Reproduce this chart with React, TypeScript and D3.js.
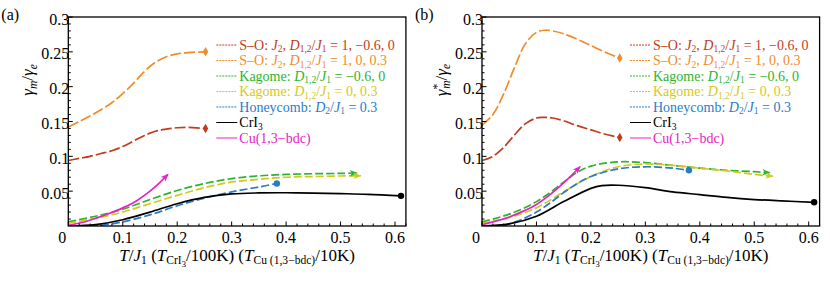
import React from 'react';
import * as d3 from 'd3';

const W = 830;
const H = 285;
const FONT = '"Liberation Serif"';

// ---- panel (a): gamma_m / gamma_e ----
const soNegAX = [0, 0.02, 0.04, 0.06, 0.08, 0.1, 0.12, 0.14, 0.16, 0.18, 0.2, 0.22, 0.252];
const soNegAY = [0.094, 0.097, 0.1, 0.104, 0.108, 0.114, 0.122, 0.13, 0.136, 0.139, 0.141, 0.1415, 0.14];
const soPosAX = [0, 0.02, 0.04, 0.06, 0.08, 0.1, 0.12, 0.14, 0.16, 0.18, 0.2, 0.22, 0.252];
const soPosAY = [0.142, 0.15, 0.158, 0.167, 0.177, 0.19, 0.205, 0.222, 0.235, 0.243, 0.247, 0.249, 0.25];
const kagNegAX = [0, 0.05, 0.1, 0.15, 0.2, 0.25, 0.3, 0.35, 0.4, 0.45, 0.5, 0.53];
const kagNegAY = [0.006, 0.014, 0.024, 0.038, 0.051, 0.061, 0.068, 0.072, 0.074, 0.075, 0.0755, 0.076];
const kagPosAX = [0, 0.05, 0.1, 0.15, 0.2, 0.25, 0.3, 0.35, 0.4, 0.45, 0.5, 0.537];
const kagPosAY = [0.004, 0.011, 0.02, 0.032, 0.044, 0.055, 0.063, 0.067, 0.07, 0.071, 0.0718, 0.072];
const honAX = [0.04, 0.06, 0.1, 0.15, 0.2, 0.25, 0.3, 0.35, 0.383];
const honAY = [0, 0.001, 0.006, 0.016, 0.029, 0.04, 0.049, 0.056, 0.061];
const criAX = [0, 0.05, 0.1, 0.15, 0.2, 0.25, 0.3, 0.35, 0.4, 0.45, 0.5, 0.55, 0.611];
const criAY = [0, 0.002, 0.009, 0.02, 0.032, 0.041, 0.046, 0.0475, 0.0477, 0.0473, 0.0465, 0.0455, 0.0433];
const cuAX = [0, 0.025, 0.05, 0.075, 0.1, 0.125, 0.15, 0.165, 0.183];
const cuAY = [0.001, 0.005, 0.011, 0.018, 0.026, 0.036, 0.05, 0.06, 0.074];

// ---- panel (b): gamma*_m / gamma_e ----
const soNegBX = [0, 0.02, 0.04, 0.06, 0.08, 0.1, 0.11, 0.13, 0.15, 0.175, 0.2, 0.225, 0.253];
const soNegBY = [0.094, 0.1, 0.113, 0.131, 0.147, 0.155, 0.156, 0.155, 0.151, 0.144, 0.138, 0.132, 0.127];
const soPosBX = [0, 0.02, 0.04, 0.06, 0.08, 0.1, 0.115, 0.13, 0.15, 0.175, 0.2, 0.225, 0.253];
const soPosBY = [0.145, 0.16, 0.19, 0.228, 0.262, 0.278, 0.281, 0.28, 0.276, 0.268, 0.259, 0.25, 0.241];
const kagNegBX = [0, 0.025, 0.05, 0.075, 0.1, 0.125, 0.15, 0.175, 0.2, 0.25, 0.3, 0.35, 0.4, 0.45, 0.5, 0.528];
const kagNegBY = [0.006, 0.011, 0.017, 0.025, 0.035, 0.048, 0.063, 0.077, 0.086, 0.092, 0.091, 0.087, 0.083, 0.08, 0.078, 0.0765];
const kagPosBX = [0, 0.05, 0.1, 0.15, 0.2, 0.25, 0.3, 0.35, 0.4, 0.45, 0.5, 0.534];
const kagPosBY = [0.004, 0.012, 0.026, 0.049, 0.071, 0.085, 0.089, 0.087, 0.083, 0.079, 0.074, 0.0714];
const honBX = [0.04, 0.05, 0.075, 0.1, 0.125, 0.15, 0.175, 0.2, 0.25, 0.3, 0.35, 0.38];
const honBY = [0, 0.003, 0.01, 0.02, 0.033, 0.048, 0.061, 0.071, 0.082, 0.085, 0.083, 0.08];
const criBX = [0, 0.05, 0.1, 0.15, 0.2, 0.22, 0.25, 0.3, 0.35, 0.4, 0.45, 0.5, 0.55, 0.61];
const criBY = [0, 0.003, 0.014, 0.035, 0.054, 0.058, 0.0585, 0.055, 0.049, 0.045, 0.041, 0.038, 0.036, 0.034];
const cuBX = [0, 0.025, 0.05, 0.075, 0.1, 0.125, 0.15, 0.165, 0.18];
const cuBY = [0.002, 0.007, 0.013, 0.021, 0.031, 0.045, 0.062, 0.073, 0.085];

// ---- styling per series (legend order) ----
const seriesColors = ['#c03c1c', '#f08c2a', '#2cb52c', '#d4c81e', '#2a7cc8', '#000000', '#e623c4'];
const seriesDash = ['11,3', '11,3', '8,3', '8,3', '8,3', null, null];
const seriesEnd = ['diamond', 'diamond', 'arrow', 'arrow', 'circle', 'circle', 'arrow'];

type Seg = [string, string];
const legendLabels: Seg[][] = [
  [['S\u2013O: ', 'n'], ['J', 'i'], ['2', 's'], [', ', 'n'], ['D', 'i'], ['1,2', 's'], ['/', 'n'], ['J', 'i'], ['1', 's'], [' = 1, \u22120.6, 0', 'n']],
  [['S\u2013O: ', 'n'], ['J', 'i'], ['2', 's'], [', ', 'n'], ['D', 'i'], ['1,2', 's'], ['/', 'n'], ['J', 'i'], ['1', 's'], [' = 1, 0, 0.3', 'n']],
  [['Kagome: ', 'n'], ['D', 'i'], ['1,2', 's'], ['/', 'n'], ['J', 'i'], ['1', 's'], [' = \u22120.6, 0', 'n']],
  [['Kagome: ', 'n'], ['D', 'i'], ['1,2', 's'], ['/', 'n'], ['J', 'i'], ['1', 's'], [' = 0, 0.3', 'n']],
  [['Honeycomb: ', 'n'], ['D', 'i'], ['2', 's'], ['/', 'n'], ['J', 'i'], ['1', 's'], [' = 0.3', 'n']],
  [['CrI', 'n'], ['3', 's']],
  [['Cu(1,3\u2212bdc)', 'n']],
];

const xTitle: Seg[] = [
  ['T', 'i'], ['/', 'n'], ['J', 'i'], ['1', 's'], [' (', 'n'], ['T', 'i'], ['CrI', 's'], ['3', 'b'],
  ['/100K) (', 'n'], ['T', 'i'], ['Cu (1,3\u2212bdc)', 's'], ['/10K)', 'n'],
];
const yTitleA: Seg[] = [['\u03b3', 'i'], ['m', 'si'], ['/', 'n'], ['\u03b3', 'i'], ['e', 'si']];
const yTitleB: Seg[] = [['\u03b3', 'i'], ['*', 'p'], ['m', 'sik'], ['/', 'n'], ['\u03b3', 'i'], ['e', 'si']];

const xTicks = [0, 0.1, 0.2, 0.3, 0.4, 0.5, 0.6];
const yTicks = [0.05, 0.1, 0.15, 0.2, 0.25, 0.3];

function rich(segs: Seg[], fs: number) {
  let off = 0;
  return segs.map(([t, k], i) => {
    const target = k.includes('b') ? fs * 0.36 : k.includes('s') ? fs * 0.2 : k.includes('p') ? -fs * 0.35 : 0;
    const small = k.includes('b') ? 0.5 : (k.includes('s') || k.includes('p')) ? 0.68 : 1;
    const dy = target - off;
    off = target;
    return (
      <tspan key={i} dy={dy} dx={k.includes('k') ? -fs * 0.3 : 0}
        style={{ fontStyle: k.includes('i') ? 'italic' : 'normal', fontSize: fs * small, fontFamily: FONT }}>{t}</tspan>
    );
  });
}

function Panel({ x0, data, yTitle, tag, id }: any) {
  const fw = 337.6;
  const x = d3.scaleLinear().domain([0, 0.62]).range([x0, x0 + fw]);
  const y = d3.scaleLinear().domain([0, 0.3]).range([226, 17]);
  const line = d3.line<[number, number]>().x(d => x(d[0])).y(d => y(d[1])).curve(d3.curveCatmullRom.alpha(0.5));
  const minorX = d3.range(0, 0.621, 0.02).filter(v => Math.abs(v * 10 - Math.round(v * 10)) > 1e-6);
  const minorY = d3.range(0, 0.3, 0.01).filter(v => Math.abs(v * 20 - Math.round(v * 20)) > 1e-6);
  const tf = { fontFamily: FONT };

  const endMark = (s: any, i: number) => {
    const n = s.xs.length;
    const px = x(s.xs[n - 1]);
    const py = y(s.ys[n - 1]);
    const c = seriesColors[i];
    if (seriesEnd[i] === 'circle') return <circle cx={px} cy={py} r={3.2} fill={c} />;
    if (seriesEnd[i] === 'diamond')
      return <path d={d3.symbol(d3.symbolDiamond, 26)() as string} transform={`translate(${px},${py})`} fill={c} />;
    const ang = Math.atan2(y(s.ys[n - 1]) - y(s.ys[n - 2]), x(s.xs[n - 1]) - x(s.xs[n - 2])) * 180 / Math.PI;
    return <path d="M1,0 L-7,-3.2 L-5,0 L-7,3.2 Z" fill={c} transform={`translate(${px},${py}) rotate(${ang})`} />;
  };

  return (
    <g>
      <defs>
        <clipPath id={id}><rect x={x0} y={17} width={fw} height={209} /></clipPath>
      </defs>
      <g clipPath={`url(#${id})`}>
        {data.map((s: any, i: number) => (
          <path key={i} d={line(s.xs.map((v: number, j: number) => [v, s.ys[j]])) as string}
            fill="none" stroke={seriesColors[i]} strokeWidth={1.7}
            strokeDasharray={seriesDash[i] ?? undefined} />
        ))}
      </g>
      {data.map((s: any, i: number) => <g key={i}>{endMark(s, i)}</g>)}
      <rect x={x0} y={17} width={fw} height={209} fill="none" stroke="#000" strokeWidth={1.3} />
      {xTicks.map(v => (
        <g key={v}>
          <line x1={x(v)} x2={x(v)} y1={226} y2={221.5} stroke="#000" strokeWidth={1} />
          <text x={x(v) - (v === 0 ? 6 : 0)} y={243} textAnchor="middle" style={{ ...tf, fontSize: 16 }}>{String(v)}</text>
        </g>
      ))}
      {minorX.map(v => <line key={v} x1={x(v)} x2={x(v)} y1={226} y2={223.5} stroke="#000" strokeWidth={1} />)}
      {yTicks.map(v => (
        <g key={v}>
          <line x1={x0} x2={x0 + 4.5} y1={y(v)} y2={y(v)} stroke="#000" strokeWidth={1} />
          <text x={x0 + 1} y={y(v) + 7.5} textAnchor="end" style={{ ...tf, fontSize: 16 }}>{String(v)}</text>
        </g>
      ))}
      {minorY.map(v => <line key={v} x1={x0} x2={x0 + 2.5} y1={y(v)} y2={y(v)} stroke="#000" strokeWidth={1} />)}
      <text x={x0 + fw / 2} y={261} textAnchor="middle" style={{ ...tf, fontSize: 17 }}>{rich(xTitle, 17)}</text>
      <text transform={`translate(${x0 - 35},80) rotate(-90)`} textAnchor="middle" style={{ ...tf, fontSize: 17 }}>{rich(yTitle, 17)}</text>
      <text x={x0 - 67} y={20} style={{ ...tf, fontSize: 16 }}>{tag}</text>
      {legendLabels.map((segs, i) => {
        const ly = 45 + 15.5 * i;
        return (
          <g key={i}>
            <line x1={x0 + 148} x2={x0 + 169} y1={ly} y2={ly} stroke={seriesColors[i]} strokeWidth={1}
              strokeDasharray={seriesDash[i] ? '2,1' : undefined} />
            <text x={x0 + 171} y={ly + 4.5} fill={seriesColors[i]} style={{ ...tf, fontSize: 14 }}>{rich(segs, 14)}</text>
          </g>
        );
      })}
    </g>
  );
}

const dataA = [
  { xs: soNegAX, ys: soNegAY }, { xs: soPosAX, ys: soPosAY },
  { xs: kagNegAX, ys: kagNegAY }, { xs: kagPosAX, ys: kagPosAY },
  { xs: honAX, ys: honAY }, { xs: criAX, ys: criAY }, { xs: cuAX, ys: cuAY },
];
const dataB = [
  { xs: soNegBX, ys: soNegBY }, { xs: soPosBX, ys: soPosBY },
  { xs: kagNegBX, ys: kagNegBY }, { xs: kagPosBX, ys: kagPosBY },
  { xs: honBX, ys: honBY }, { xs: criBX, ys: criBY }, { xs: cuBX, ys: cuBY },
];

export default function App() {
  return (
    <svg width={W} height={H} style={{ position: 'absolute', left: 0, top: 0, background: '#fff', fontFamily: FONT }}>
      <Panel x0={68.3} data={dataA} yTitle={yTitleA} tag="(a)" id="clipA" />
      <Panel x0={482} data={dataB} yTitle={yTitleB} tag="(b)" id="clipB" />
    </svg>
  );
}
